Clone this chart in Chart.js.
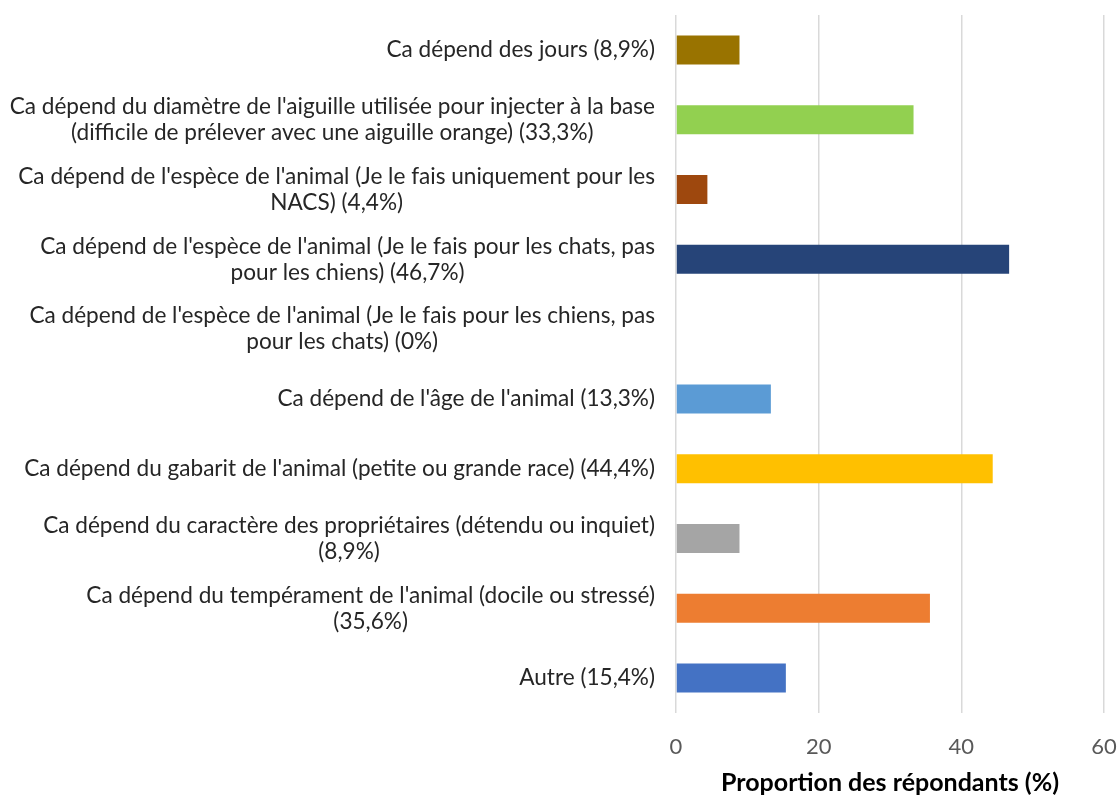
<!DOCTYPE html>
<html>
<head>
<meta charset="utf-8">
<script src="https://cdn.jsdelivr.net/npm/chart.js@4.4.1/dist/chart.umd.min.js"></script>
<style>
  html, body { margin: 0; padding: 0; background: #fff; }
  #wrap { width: 1120px; height: 798px; position: relative; }
</style>
</head>
<body>
<div id="wrap"><canvas id="c"></canvas></div>
<script>
const categories = [
  ["Ca dépend des jours (8,9%)"],
  ["Ca dépend du diamètre de l'aiguille utilisée pour injecter à la base", "(difficile de prélever avec une aiguille orange) (33,3%)"],
  ["Ca dépend de l'espèce de l'animal (Je le fais uniquement pour les", "NACS) (4,4%)"],
  ["Ca dépend de l'espèce de l'animal (Je le fais pour les chats, pas", "pour les chiens) (46,7%)"],
  ["Ca dépend de l'espèce de l'animal (Je le fais pour les chiens, pas", "pour les chats) (0%)"],
  ["Ca dépend de l'âge de l'animal (13,3%)"],
  ["Ca dépend du gabarit de l'animal (petite ou grande race) (44,4%)"],
  ["Ca dépend du caractère des propriétaires (détendu ou inquiet)", "(8,9%)"],
  ["Ca dépend du tempérament de l'animal (docile ou stressé)", "(35,6%)"],
  ["Autre (15,4%)"]
];
const values = [8.9, 33.3, 4.4, 46.7, 0, 13.3, 44.4, 8.9, 35.6, 15.4];
const barColors = ["#997300", "#92D050", "#9E480E", "#264478", "#636363", "#5B9BD5", "#FFC000", "#A5A5A5", "#ED7D31", "#4472C4"];
const xTicks = [0, 20, 40, 60];
const xTitle = "Proportion des répondants (%)";

const LABEL_FONT = "22.6px Lato";
const LABEL_LINE = 26;
const LABEL_COLOR = "#262626";

const centeredLabels = {
  id: 'centeredLabels',
  afterDraw(chart) {
    const ctx = chart.ctx;
    const ys = chart.scales.y;
    ctx.save();
    ctx.font = LABEL_FONT;
    ctx.fillStyle = LABEL_COLOR;
    ctx.textAlign = 'center';
    ctx.textBaseline = 'middle';
    const rightEdge = ys.right - 21;
    categories.forEach((lines, i) => {
      const yc = ys.getPixelForValue(i);
      let w = 0;
      lines.forEach(l => { w = Math.max(w, ctx.measureText(l).width); });
      const cx = rightEdge - w / 2;
      const y0 = yc - (lines.length - 1) * LABEL_LINE / 2;
      lines.forEach((l, k) => ctx.fillText(l, cx, y0 + k * LABEL_LINE));
    });
    ctx.restore();
  }
};

new Chart(document.getElementById('c'), {
  type: 'bar',
  data: {
    labels: categories,
    datasets: [{
      data: values,
      backgroundColor: barColors,
      borderWidth: 0,
      barPercentage: 0.415,
      categoryPercentage: 1.0
    }]
  },
  options: {
    indexAxis: 'y',
    responsive: true,
    maintainAspectRatio: false,
    animation: false,
    layout: { padding: { top: 15, right: 16, bottom: 0, left: 0 } },
    plugins: { legend: { display: false }, tooltip: { enabled: false } },
    scales: {
      x: {
        min: 0, max: 60,
        afterBuildTicks(scale) { scale.ticks = xTicks.map(v => ({ value: v })); },
        afterFit(scale) { scale.height = 85; scale.paddingRight = 0; scale.paddingLeft = 0; },
        grid: { color: '#D9D9D9', lineWidth: 1.5, drawTicks: false },
        border: { display: false },
        ticks: { color: '#595959', font: { family: 'Lato', size: 22 }, padding: 21, maxRotation: 0 },
        title: {
          display: true, text: xTitle, color: '#000',
          font: { family: 'Lato', size: 25, weight: 'bold' },
          padding: { top: 0, bottom: 0 }
        }
      },
      y: {
        afterFit(scale) { scale.width = 676; },
        grid: { display: false },
        border: { display: false },
        ticks: { color: 'rgba(0,0,0,0)', autoSkip: false, font: { family: 'Lato', size: 12 } }
      }
    }
  },
  plugins: [centeredLabels]
});
</script>
</body>
</html>
